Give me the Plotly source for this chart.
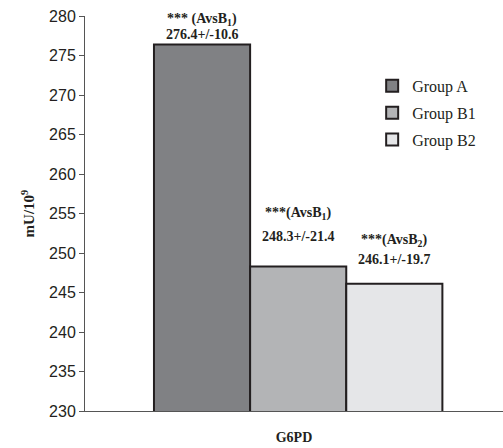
import plotly.graph_objects as go

category = ["G6PD"]
groups = ["Group A", "Group B1", "Group B2"]
means = [276.4, 248.3, 246.1]
sds = [10.6, 21.4, 19.7]
sig_labels = ["*** (AvsB<sub>1</sub>)", "***(AvsB<sub>1</sub>)", "***(AvsB<sub>2</sub>)"]
colors = ["#808184", "#b3b4b6", "#e5e6e8"]
y_ticks = [230, 235, 240, 245, 250, 255, 260, 265, 270, 275, 280]

serif = "Liberation Serif, Times New Roman, serif"
sans = "Liberation Sans, Arial, sans-serif"
ink = "#231f20"

bargap = 0.31
n = len(groups)
bw = (1 - bargap) / n

fig = go.Figure()
for i, g in enumerate(groups):
    fig.add_trace(go.Bar(
        x=category, y=[means[i]], name=g,
        marker=dict(color=colors[i], line=dict(color=ink, width=2)),
        legendgroup=g,
    ))

value_shift = [0, 20, 15]
sig_shift = [14, 42, 33]
anns = []
for i in range(n):
    xc = (i - (n - 1) / 2) * bw
    anns.append(dict(x=xc, y=means[i], xref="x", yref="y",
                     text=f"<b>{means[i]:.1f}+/-{sds[i]:.1f}</b>", showarrow=False,
                     yanchor="bottom", yshift=value_shift[i],
                     font=dict(family=serif, size=14, color=ink)))
    anns.append(dict(x=xc, y=means[i], xref="x", yref="y",
                     text=f"<b>{sig_labels[i]}</b>", showarrow=False,
                     yanchor="bottom", yshift=sig_shift[i],
                     font=dict(family=serif, size=14, color=ink)))

fig.update_layout(
    annotations=anns,
    width=503, height=448,
    margin=dict(l=85, r=0, t=16, b=37),
    paper_bgcolor="white", plot_bgcolor="white",
    barmode="group", bargap=bargap, bargroupgap=0,
    showlegend=True,
    legend=dict(x=0.687, y=0.866, xanchor="left", yanchor="top",
                font=dict(family=serif, size=16, color=ink),
                traceorder="grouped", tracegroupgap=3,
                bgcolor="rgba(0,0,0,0)"),
    xaxis=dict(range=[-0.51, 0.49], showticklabels=False, ticks="",
               showline=True, linecolor="#555555", linewidth=1,
               showgrid=False, zeroline=False,
               title=dict(text="<b>G6PD</b>", font=dict(family=serif, size=14, color=ink), standoff=21)),
    yaxis=dict(range=[230, 280], tickvals=y_ticks, ticks="outside", ticklen=5,
               tickcolor="#555555", tickwidth=1,
               showline=True, linecolor="#555555", linewidth=1,
               showgrid=False, zeroline=False,
               tickfont=dict(family=sans, size=16, color=ink),
               title=dict(text="<b>mU/10<sup>9</sup></b>", font=dict(family=serif, size=15, color=ink), standoff=10)),
)

fig.write_html("out.html", config={"displayModeBar": False},
               post_script="document.body.style.margin='0';")
